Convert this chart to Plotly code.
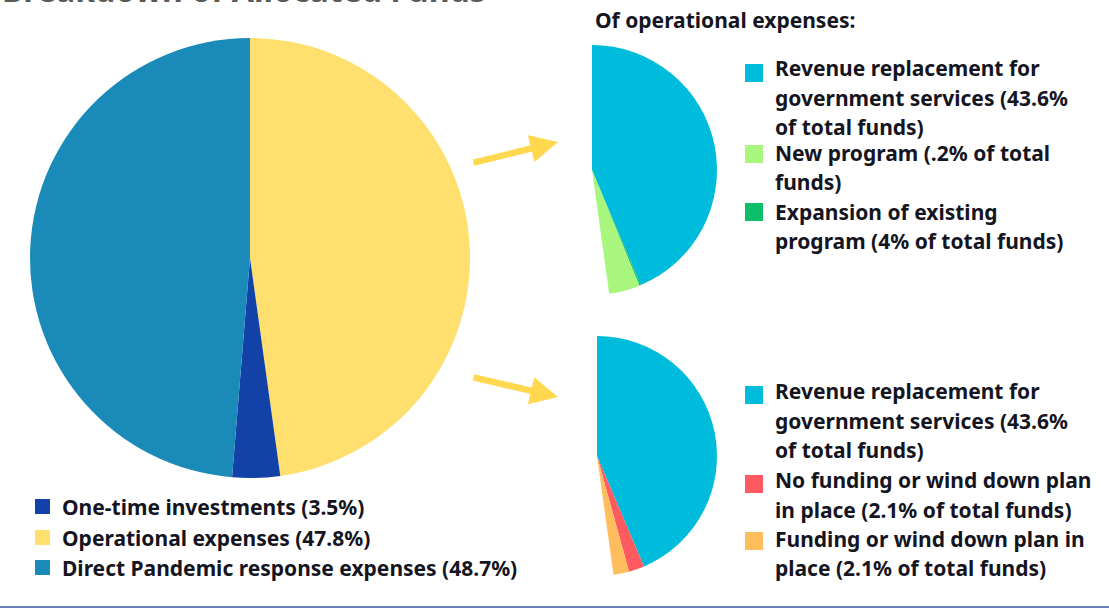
import plotly.graph_objects as go

W, H = 1109, 608

# ---------------- data ----------------
main_labels = ["Operational expenses", "One-time investments", "Direct Pandemic response expenses"]
main_values = [47.8, 3.5, 48.7]
main_colors = ["#FFDF6E", "#1242A8", "#1A8AB8"]

legend_main_labels = ["One-time investments (3.5%)",
                      "Operational expenses (47.8%)",
                      "Direct Pandemic response expenses (48.7%)"]
legend_main_colors = ["#1242A8", "#FFDF6E", "#1A8AB8"]

top_labels = ["Revenue replacement for government services",
              "New program", "Expansion of existing program"]
top_values = [43.6, 0.2, 4.0]
top_slice_colors = ["#00BCDC", "#0DBE6A", "#A9F67F"]
top_legend_lines = [["Revenue replacement for", "government services (43.6%", "of total funds)"],
                    ["New program (.2% of total", "funds)"],
                    ["Expansion of existing", "program (4% of total funds)"]]
top_legend_colors = ["#00BCDC", "#A9F67F", "#0DBE6A"]

bot_labels = ["Revenue replacement for government services",
              "No funding or wind down plan in place",
              "Funding or wind down plan in place"]
bot_values = [43.6, 2.1, 2.1]
bot_slice_colors = ["#00BCDC", "#FF5A5F", "#FFBE5E"]
bot_legend_lines = [["Revenue replacement for", "government services (43.6%", "of total funds)"],
                    ["No funding or wind down plan", "in place (2.1% of total funds)"],
                    ["Funding or wind down plan in", "place (2.1% of total funds)"]]
bot_legend_colors = ["#00BCDC", "#FF5A5F", "#FFBE5E"]

TOTAL = 100.0
TEXT = "#15151f"
FONT = "Noto Sans"
FS = 21


def px(x):
    return x / W


def py(y):
    return 1 - y / H


fig = go.Figure()

fig.add_trace(go.Pie(
    labels=main_labels, values=main_values, sort=False, direction="clockwise",
    rotation=0, marker=dict(colors=main_colors, line=dict(width=0)),
    textinfo="none", showlegend=False,
    domain=dict(x=[px(30), px(470)], y=[py(478), py(38)]),
))


def partial_pie(labels, values, colors, x0, x1, y0, y1):
    rest = TOTAL - sum(values)
    fig.add_trace(go.Pie(
        labels=labels + [""], values=values + [rest], sort=False,
        direction="clockwise", rotation=0,
        marker=dict(colors=colors + ["rgba(0,0,0,0)"], line=dict(width=0)),
        textinfo="none", showlegend=False, hoverinfo="label+value",
        domain=dict(x=[px(x0), px(x1)], y=[py(y1), py(y0)]),
    ))


partial_pie(top_labels, top_values, top_slice_colors, 467, 717, 45, 295)
partial_pie(bot_labels, bot_values, bot_slice_colors, 477, 717, 336, 576)

shapes = []
annotations = []


def text_line(x, y, s, size=FS, color=TEXT):
    annotations.append(dict(
        x=px(x), y=py(y), xref="paper", yref="paper", text=s, showarrow=False,
        xanchor="left", yanchor="middle",
        font=dict(family=FONT, size=size, color=color, weight="bold"),
    ))


def square(x, y, s, color):
    shapes.append(dict(type="rect", xref="paper", yref="paper",
                       x0=px(x), x1=px(x + s), y0=py(y + s), y1=py(y),
                       fillcolor=color, line=dict(width=0)))


# right-hand legends
def right_legend(lines_list, colors, square_tops, line_ys):
    k = 0
    for lines, c, st in zip(lines_list, colors, square_tops):
        square(745, st, 18, c)
        for ln in lines:
            text_line(773, line_ys[k], ln)
            k += 1


right_legend(top_legend_lines, top_legend_colors, [64, 145, 203],
             [68, 98, 127, 153, 182, 212, 241])
right_legend(bot_legend_lines, bot_legend_colors, [386, 475, 532],
             [391, 421, 450, 480, 510, 539, 568])

# main legend
for lab, c, yc in zip(legend_main_labels, legend_main_colors, [507, 538, 568]):
    square(35, yc - 8, 15, c)
    text_line(60, yc, lab)

# sub title
text_line(593, 20, "Of operational expenses:")

# cut-off main title (only its lower edge is visible in the reference)
annotations.append(dict(
    x=px(0), y=py(13), xref="paper", yref="paper",
    text="Breakdown of Allocated Funds", showarrow=False,
    xanchor="left", yanchor="bottom",
    font=dict(family=FONT, size=32, color="#5a5a5a", weight="bold"),
))

# arrows (pixel offsets: positive ay = tail below head)
for (x0, y0, x1, y1) in [(472, 163, 558, 142), (472, 377, 558, 397)]:
    annotations.append(dict(
        x=px(x1), y=py(y1), xref="paper", yref="paper", text="",
        showarrow=True, ax=x0 - x1, ay=y0 - y1, axref="pixel", ayref="pixel",
        arrowhead=2, arrowsize=0.85, arrowwidth=6.5, arrowcolor="#FFD84F",
    ))

# bottom border line
shapes.append(dict(type="line", xref="paper", yref="paper",
                   x0=0, x1=1, y0=py(607), y1=py(607),
                   line=dict(color="#6B80B8", width=2)))

fig.update_layout(
    width=W, height=H, margin=dict(l=0, r=0, t=0, b=0),
    paper_bgcolor="white", plot_bgcolor="white",
    shapes=shapes, annotations=annotations, showlegend=False,
)

fig.write_html("out.html", config={"displayModeBar": False},
               post_script="document.body.style.margin='0';document.body.style.overflow='hidden';")
